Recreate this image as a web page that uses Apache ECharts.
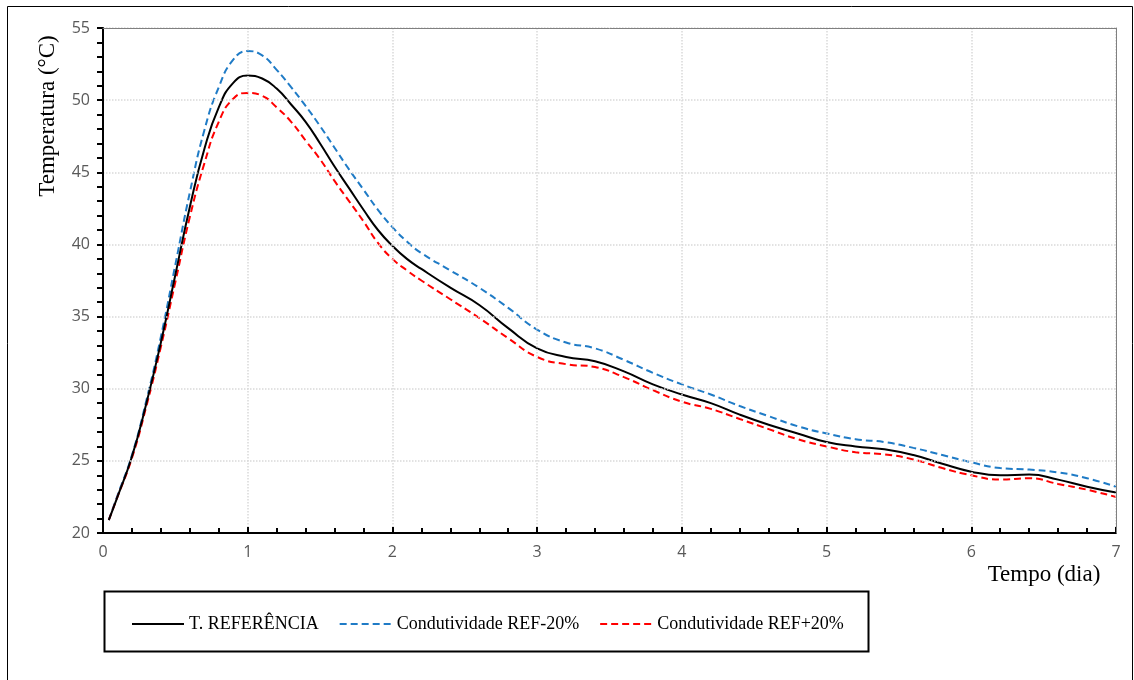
<!DOCTYPE html>
<html>
<head>
<meta charset="utf-8">
<script src="https://cdn.jsdelivr.net/npm/echarts@6/dist/echarts.min.js"></script>
<style>
  html, body { margin: 0; padding: 0; background: #fff; }
  #chart { width: 1134px; height: 680px; }
</style>
</head>
<body>
<div id="chart"></div>
<script>
// time (dia)
const tempo = [0.04, 0.1, 0.2, 0.3, 0.4, 0.5, 0.6, 0.7, 0.8, 0.9, 1.0, 1.1, 1.2, 1.3, 1.4, 1.5, 1.6, 1.7, 1.8, 1.9, 2.0, 2.1, 2.2, 2.4, 2.6, 2.8, 3.0, 3.2, 3.4, 3.6, 3.8, 4.0, 4.2, 4.4, 4.6, 4.8, 5.0, 5.2, 5.4, 5.6, 5.8, 6.0, 6.2, 6.4, 6.6, 6.8, 7.0]

// temperatures (°C)
const tReferencia = [20.9, 22.5, 25.3, 29.0, 33.2, 37.9, 42.6, 46.6, 49.5, 51.2, 51.7, 51.5, 50.8, 49.7, 48.5, 47.0, 45.4, 43.9, 42.4, 41.0, 39.9, 39.0, 38.3, 37.0, 35.8, 34.2, 32.8, 32.2, 31.9, 31.2, 30.3, 29.6, 29.0, 28.2, 27.5, 26.9, 26.3, 26.0, 25.8, 25.4, 24.8, 24.25, 24.0, 24.05, 23.7, 23.2, 22.8]
const condMenos20 = [20.9, 22.6, 25.4, 29.2, 33.6, 38.6, 43.6, 47.9, 50.9, 52.8, 53.4, 53.1, 52.1, 50.9, 49.6, 48.2, 46.7, 45.2, 43.8, 42.4, 41.2, 40.2, 39.4, 38.2, 37.0, 35.6, 34.1, 33.2, 32.8, 32.0, 31.1, 30.3, 29.6, 28.8, 28.1, 27.4, 26.9, 26.5, 26.3, 25.9, 25.4, 24.9, 24.5, 24.4, 24.2, 23.8, 23.2]
const condMais20 = [20.9, 22.5, 25.2, 28.8, 32.9, 37.4, 41.9, 45.6, 48.5, 50.1, 50.5, 50.3, 49.5, 48.5, 47.2, 45.9, 44.4, 43.0, 41.6, 40.1, 39.0, 38.2, 37.5, 36.2, 34.9, 33.5, 32.2, 31.7, 31.5, 30.8, 29.9, 29.1, 28.6, 27.9, 27.2, 26.5, 26.0, 25.6, 25.45, 25.1, 24.5, 24.0, 23.7, 23.8, 23.4, 23.0, 22.5]

const nomes = ["T. REFERÊNCIA", "Condutividade REF-20%", "Condutividade REF+20%"]

const pairs = (ys) => tempo.map((t, i) => [t, ys[i]])

const chart = echarts.init(document.getElementById("chart"))

const labelStyle = { color: "#595959", fontFamily: "Open Sans", fontSize: 16 }
const gridLine = { show: true, lineStyle: { color: "#d9d9d9", type: "dotted", width: 1.5 } }
const frameLine = { show: true, onZero: false, lineStyle: { color: "#808080", width: 1, type: "solid" } }

chart.setOption({
  backgroundColor: "#ffffff",
  animation: false,
  grid: {
    left: 103,
    right: 18,
    top: 28,
    bottom: 147
  },
  xAxis: [
    {
      type: "value",
      min: 0,
      max: 7,
      interval: 1,
      axisLine: { onZero: false, lineStyle: { color: "#000", width: 2 } },
      axisTick: { inside: true, length: 6, lineStyle: { color: "#000", width: 2 } },
      minorTick: { show: true, splitNumber: 5, length: 5, lineStyle: { color: "#000", width: 2 } },
      axisLabel: { ...labelStyle, margin: 11 },
      splitLine: gridLine,
      z: 5
    },
    {
      // top frame
      type: "value",
      position: "top",
      min: 0,
      max: 7,
      axisLine: frameLine,
      axisTick: { show: false },
      axisLabel: { show: false },
      splitLine: { show: false },
      z: 10
    }
  ],
  yAxis: [
    {
      type: "value",
      min: 20,
      max: 55,
      interval: 5,
      axisLine: { show: true, onZero: false, lineStyle: { color: "#000", width: 2 } },
      axisTick: { show: true, length: 6, lineStyle: { color: "#000", width: 2 } },
      minorTick: { show: true, splitNumber: 5, length: 6, lineStyle: { color: "#000", width: 2 } },
      axisLabel: { ...labelStyle, margin: 13 },
      splitLine: gridLine,
      z: 5
    },
    {
      // right frame
      type: "value",
      position: "right",
      min: 20,
      max: 55,
      axisLine: frameLine,
      axisTick: { show: false },
      axisLabel: { show: false },
      splitLine: { show: false },
      z: 10
    }
  ],
  legend: {
    left: 126,
    top: 610,
    itemWidth: 52,
    itemHeight: 14,
    itemGap: 20,
    itemStyle: { opacity: 0 },
    textStyle: { fontFamily: "Liberation Serif", fontSize: 18, color: "#000" },
    data: nomes
  },
  graphic: [
    {
      type: "rect",
      shape: { x: 7.5, y: 6.5, width: 1125, height: 700 },
      style: { fill: "none", stroke: "#000", lineWidth: 1 },
      silent: true
    },
    {
      type: "rect",
      shape: { x: 104.5, y: 591.5, width: 764, height: 60 },
      style: { fill: "none", stroke: "#000", lineWidth: 2 },
      silent: true
    },
    {
      type: "text",
      x: 48,
      y: 116,
      rotation: Math.PI / 2,
      style: {
        text: "Temperatura (°C)",
        fontFamily: "Liberation Serif",
        fontSize: 23,
        fill: "#000",
        align: "center",
        verticalAlign: "middle"
      }
    },
    {
      type: "text",
      x: 1044,
      y: 575,
      style: {
        text: "Tempo (dia)",
        fontFamily: "Liberation Serif",
        fontSize: 23,
        fill: "#000",
        align: "center",
        verticalAlign: "middle"
      }
    }
  ],
  series: [
    {
      type: "line",
      name: nomes[0],
      data: pairs(tReferencia),
      symbol: "none",
      smooth: 0.5,
      lineStyle: { color: "#000000", width: 2 },
      itemStyle: { color: "#000000" },
      z: 4
    },
    {
      type: "line",
      name: nomes[1],
      data: pairs(condMenos20),
      symbol: "none",
      smooth: 0.5,
      lineStyle: { color: "#1f7bc6", width: 2, type: [7, 4] },
      itemStyle: { color: "#1f7bc6" },
      z: 3
    },
    {
      type: "line",
      name: nomes[2],
      data: pairs(condMais20),
      symbol: "none",
      smooth: 0.5,
      lineStyle: { color: "#ff0000", width: 2, type: [7, 4] },
      itemStyle: { color: "#ff0000" },
      z: 3
    }
  ]
})
</script>
</body>
</html>
